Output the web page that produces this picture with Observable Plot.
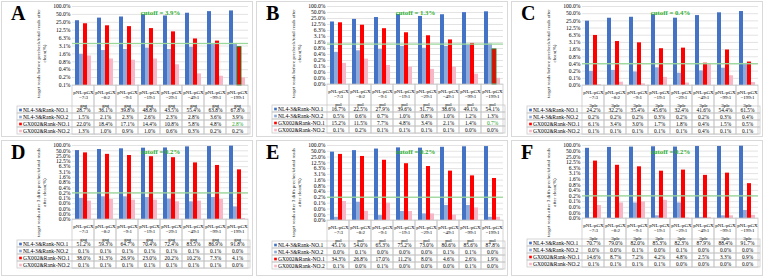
<!DOCTYPE html>
<html><head><meta charset="utf-8">
<script src="https://cdn.jsdelivr.net/npm/d3@7"></script>
<script src="https://cdn.jsdelivr.net/npm/@observablehq/plot@0.6"></script>
<style>
html,body{margin:0;padding:0;background:#fff}
body{width:767px;height:280px;overflow:hidden;position:relative;font-family:"Liberation Serif",serif}
.panel{position:absolute;width:252px;height:136px;box-shadow:inset 0 0 0 1px #d9d9d9;background:#fff}
.panel svg{position:absolute;left:0;display:block;overflow:visible;background:transparent}
.letter{position:absolute;left:10px;top:2px;font:bold 20px "Liberation Serif",serif;line-height:20px;color:#000}
.ytitle{position:absolute;width:104px;height:11px;left:-12px;top:47px;transform:rotate(-90deg);
  font:5px "Liberation Serif",serif;line-height:5.5px;text-align:center;color:#222;white-space:nowrap}
</style></head><body>
<script>
// ---------- data ----------
const ratios = ["7:3","8:2","9:1","19:1","29:1","49:1","99:1","199:1"];
const series = ["NL4-3&Rank-NO.1","NL4-3&Rank-NO.2","GX002&Rank-NO.1","GX002&Rank-NO.2"];
const colors = ["#4472c4","#8eaadb","#ff0000","#f7b7c6"];
const letters = ["A","B","C","D","E","F"];
const regions = ["gag","pol","3plc","gag","pol","3plc"];
const cutoffs = [3.9,1.3,0.4,0.2,0.2,0.2];
const tickCounts = [11,14,12,15,14,14];
const yTickLabels = ["100.0%","50.0%","25.0%","12.5%","6.3%","3.1%","1.6%","0.8%","0.4%","0.2%","0.1%","0.0%","0.0%","0.0%","0.0%"];
const titleBefore = ["target reads before precheck/total reads after","clean(%)"];
const titleAfter = ["target reads after 3 diffs precheck/total reads","after clean(%)"];

// values in percent
const aNL1 = [28.7,36.1,39.8,48.8,43.5,55.4,63.8,67.8];
const aNL2 = [1.5,2.1,2.3,2.6,2.3,2.8,3.6,3.9];
const aGX1 = [22.0,18.4,17.1,14.4,10.8,5.8,4.8,2.8];
const aGX2 = [1.3,1.0,0.9,1.0,0.6,0.27,0.22,0.19];

const bNL1 = [16.7,22.5,27.9,39.6,31.7,38.6,49.1,54.1];
const bNL2 = [0.5,0.6,0.7,1.0,0.8,1.0,1.2,1.3];
const bGX1 = [15.2,11.5,7.7,4.8,3.4,2.1,1.4,0.7];
const bGX2 = [0.14,0.23,0.11,0.09,0.07,0.09,0.04,0.025];

const cNL1 = [24.2,32.2,35.4,45.6,32.4,41.6,54.4,61.5];
const cNL2 = [0.19,0.21,0.18,0.27,0.16,0.2,0.26,0.38];
const cGX1 = [6.1,3.4,3.0,1.7,1.8,0.42,1.5,0.47];
const cGX2 = [0.053,0.067,0.057,0.107,0.062,0.39,0.125,0.065];

const dNL1 = [51.2,59.3,64.7,70.4,72.4,83.5,86.9,91.8];
const dNL2 = [0.097,0.12,0.12,0.109,0.088,0.062,0.109,0.032];
const dGX1 = [38.0,31.3,26.9,23.0,20.2,10.2,7.3,4.1];
const dGX2 = [0.068,0.085,0.077,0.077,0.062,0.068,0.085,0.007];

const eNL1 = [45.1,54.0,65.3,75.2,73.0,80.6,85.6,87.8];
const eNL2 = [0.018,0.11,0.022,0.036,0.027,0.074,0.074,0.018];
const eGX1 = [34.3,26.8,17.0,11.2,8.0,4.6,2.6,1.9];
const eGX2 = [0.12,0.037,0.098,0.036,0.027,0.023,0.055,0.018];

const fNL1 = [70.7,79.0,82.0,85.3,82.3,87.9,88.4,91.7];
const fNL2 = [0.013,0.011,0.083,0.017,0.083,0.014,0.017,0.033];
const fGX1 = [14.6,8.7,7.2,4.2,4.8,2.5,3.3,0.9];
const fGX2 = [0.061,0.083,0.094,0.115,0.013,0.014,0.017,0.018];

const panelValues = [
  [aNL1,aNL2,aGX1,aGX2],[bNL1,bNL2,bGX1,bGX2],[cNL1,cNL2,cGX1,cGX2],
  [dNL1,dNL2,dGX1,dGX2],[eNL1,eNL2,eGX1,eGX2],[fNL1,fNL2,fGX1,fGX2]
];

// ---------- layout ----------
const W = 252, H = 136, ML = 68, MR = 3;
const layout = [
  {x:1,y:1,bottom:84},{x:256,y:1,bottom:83},{x:511,y:1,bottom:84},
  {x:1,y:140,bottom:79},{x:256,y:140,bottom:80},{x:511,y:140,bottom:78}
];
const HEADER = 20.5, ROWH = 7.15;
const FONT = "Liberation Serif";
const grid = "#d0d0d0";

layout.forEach((L, i) => {
  const div = document.createElement("div");
  div.className = "panel";
  div.style.left = L.x + "px"; div.style.top = L.y + "px";
  document.body.appendChild(div);

  const cats = ratios;
  const n = tickCounts[i];
  const ticks = d3.range(n).map(k => 100 / 2 ** k);
  const ymin = ticks[n - 1];
  const vals = panelValues[i];
  const cutoff = cutoffs[i];
  const rows = [];
  series.forEach((s, si) => cats.forEach((c, ci) => {
    rows.push({cat: c, s, v: vals[si][ci], hi: si === 2 && vals[si][ci] < cutoff});
  }));
  const title = i < 3 ? titleBefore : titleAfter;

  const chart = Plot.plot({
    width: W, height: L.bottom + 1,
    marginLeft: ML, marginRight: MR, marginTop: 5, marginBottom: 1,
    fx: {domain: cats, paddingInner: 0, paddingOuter: 0, axis: null, label: null},
    x: {domain: series, paddingInner: 0, paddingOuter: 0.74, axis: null},
    y: {type: "log", base: 2, domain: [ymin, 100], ticks: ticks,
        tickFormat: d => yTickLabels[Math.round(Math.log2(100 / d))],
        tickSize: 0, tickPadding: 2, label: null},
    color: {domain: series, range: colors},
    style: {fontFamily: FONT, fontSize: "5.6px", background: "transparent", overflow: "visible"},
    marks: [
      Plot.ruleY(ticks, {stroke: grid, strokeWidth: 0.6}),
      Plot.barY(rows, {fx: "cat", x: "s", y1: ymin, y2: "v", fill: "s", inset: 0}),
      Plot.barY(rows.filter(d => d.hi), {fx: "cat", x: "s", y1: ymin, y2: "v", inset: 0, fill: "#ff0000", stroke: "#1f7a1f", strokeWidth: 0.9}),
      Plot.ruleY([cutoff], {stroke: "#9ad89a", strokeWidth: 1.3}),
      Plot.text([`cutoff = ${cutoff}%`], {fx: () => cats[3], frameAnchor: "top", dx: 11, dy: 4,
        text: d => d, fill: "#2fae2f", fontWeight: "bold", fontSize: 6.8, fontFamily: FONT})
    ]
  });
  chart.style.top = "0px";
  div.appendChild(chart);

  const cells = [];
  series.forEach((s, si) => cats.forEach((c, ci) => {
    cells.push({cat: c, s, label: vals[si][ci].toFixed(1) + "%", hi: si === 2 && vals[si][ci] < cutoff});
  }));
  const tabH = HEADER + 4 * ROWH;
  const table = Plot.plot({
    width: W, height: Math.ceil(tabH) + 2,
    marginLeft: ML, marginRight: MR, marginTop: HEADER, marginBottom: Math.ceil(tabH) + 2 - tabH,
    x: {domain: cats, paddingInner: 0, paddingOuter: 0, axis: null},
    y: {domain: series, paddingInner: 0, paddingOuter: 0, axis: null},
    color: {domain: series, range: colors},
    style: {fontFamily: FONT, fontSize: "5.4px", background: "transparent", overflow: "visible"},
    marks: [
      Plot.cell(series, {y: d => d, insetLeft: -52, fill: "none", stroke: "#c4c4c4", strokeWidth: 0.7}),
      Plot.cell(cats, {x: d => d, insetTop: -HEADER, fill: "none", stroke: "#c4c4c4", strokeWidth: 0.7}),
      Plot.text(cells, {x: "cat", y: "s", text: "label", fill: d => d.hi ? "#22a022" : "#000"}),
      Plot.dot(series, {y: d => d, frameAnchor: "left", dx: -49, symbol: "square", r: 1.5, fill: d => d, stroke: null}),
      Plot.text(series, {y: d => d, frameAnchor: "left", dx: -46.5, textAnchor: "start", text: d => d, fontSize: 5.6}),
      Plot.text(cats, {x: d => d, frameAnchor: "top", dy: -HEADER + 4.8, text: () => "pNL:pGX", fontSize: 5}),
      Plot.text(cats, {x: d => d, frameAnchor: "top", dy: -HEADER + 10, text: d => "=" + d, fontSize: 5}),
      Plot.text(cats, {x: d => d, frameAnchor: "top", dy: -HEADER + 17.6, text: () => regions[i], fontSize: 5})
    ]
  });
  table.style.top = L.bottom + "px";
  div.appendChild(table);

  const yt = document.createElement("div");
  yt.className = "ytitle";
  yt.innerHTML = title.map(t => `<div>${t}</div>`).join("");
  div.appendChild(yt);

  const let_ = document.createElement("div");
  let_.className = "letter";
  let_.textContent = letters[i];
  div.appendChild(let_);
});
</script>
</body></html>
